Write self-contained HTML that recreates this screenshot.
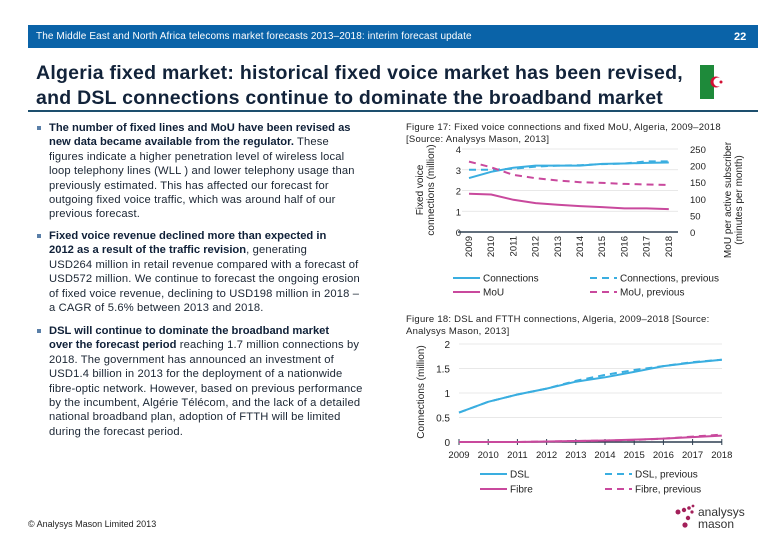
<!DOCTYPE html>
<html><head><meta charset="utf-8">
<style>
body{margin:0;width:780px;height:540px;background:#fff;position:relative;overflow:hidden;font-family:"Liberation Sans",sans-serif;}
.a{position:absolute;white-space:nowrap;}
.bl{font-size:11.2px;line-height:14.4px;color:#1a2533;letter-spacing:0.15px;}
.bl b{color:#0f2038;letter-spacing:0;}
.bul{position:absolute;width:4px;height:4px;background:#5a7fa8;}
svg text{font-family:"Liberation Sans",sans-serif;}
</style></head><body>
<div class="a" style="left:28px;top:25px;width:730px;height:23px;background:#0a63a8;"></div>
<div class="a" style="left:36px;top:31px;font-size:10px;color:#fff;letter-spacing:0.1px;">The Middle East and North Africa telecoms market forecasts 2013–2018: interim forecast update</div>
<div class="a" style="left:734px;top:31px;font-size:11px;color:#fff;font-weight:bold;">22</div>
<div class="a" style="left:36px;top:61px;font-size:19.5px;line-height:25px;font-weight:bold;color:#12233a;letter-spacing:0.25px;">Algeria fixed market: historical fixed voice market has been revised,<br>and DSL connections continue to dominate the broadband market</div>
<div class="a" style="left:28px;top:110px;width:730px;height:2px;background:#1d4f6e;"></div>
<svg class="a" style="left:700px;top:65px" width="28" height="34"><rect width="14" height="34" fill="#1e8a3a"/><rect x="14" width="14" height="34" fill="#fff"/><circle cx="16" cy="17" r="5.5" fill="#d21034"/><circle cx="18" cy="17" r="4.5" fill="#fff"/><circle cx="21" cy="17" r="1.5" fill="#d21034"/></svg>

<div class="bul" style="left:37px;top:126px"></div>
<div class="a bl" style="left:49px;top:121px"><b>The number of fixed lines and MoU have been revised as<br>new data became available from the regulator.</b> These<br>figures indicate a higher penetration level of wireless local<br>loop telephony lines (WLL ) and lower telephony usage than<br>previously estimated. This has affected our forecast for<br>outgoing fixed voice traffic, which was around half of our<br>previous forecast.</div>
<div class="bul" style="left:37px;top:234px"></div>
<div class="a bl" style="left:49px;top:229px"><b>Fixed voice revenue declined more than expected in<br>2012 as a result of the traffic revision</b>, generating<br>USD264 million in retail revenue compared with a forecast of<br>USD572 million. We continue to forecast the ongoing erosion<br>of fixed voice revenue, declining to USD198 million in 2018 –<br>a CAGR of 5.6% between 2013 and 2018.</div>
<div class="bul" style="left:37px;top:329px"></div>
<div class="a bl" style="left:49px;top:324px"><b>DSL will continue to dominate the broadband market<br>over the forecast period</b> reaching 1.7 million connections by<br>2018. The government has announced an investment of<br>USD1.4 billion in 2013 for the deployment of a nationwide<br>fibre-optic network. However, based on previous performance<br>by the incumbent, Algérie Télécom, and the lack of a detailed<br>national broadband plan, adoption of FTTH will be limited<br>during the forecast period.</div>
<div class="a" style="left:28px;top:519px;font-size:9px;color:#222;">© Analysys Mason Limited 2013</div>

<div class="a" style="left:406px;top:122px;font-size:9.5px;line-height:12px;color:#222;letter-spacing:0.25px;">Figure 17: Fixed voice connections and fixed MoU, Algeria, 2009–2018<br>[Source: Analysys Mason, 2013]</div>
<div class="a" style="left:406px;top:314px;font-size:9.5px;line-height:12px;color:#222;letter-spacing:0.25px;">Figure 18: DSL and FTTH connections, Algeria, 2009–2018 [Source:<br>Analysys Mason, 2013]</div>

<svg class="a" id="c1" style="left:0;top:0" width="780" height="540"></svg>

<div class="a" style="left:672px;top:500px;">
<svg width="90" height="32"><g fill="#a3205a"><circle cx="6" cy="12" r="2.5"/><circle cx="12" cy="10" r="2.2"/><circle cx="17" cy="8" r="1.8"/><circle cx="21" cy="6" r="1.4"/><circle cx="20" cy="12" r="1.6"/><circle cx="16" cy="18" r="2.2"/><circle cx="13" cy="25" r="2.6"/></g>
<text x="26" y="16" font-size="12" fill="#333">analysys</text><text x="26" y="28" font-size="12" fill="#333">mason</text></svg></div>

<script>
const years=["2009","2010","2011","2012","2013","2014","2015","2016","2017","2018"];
const connections=[2.6,2.9,3.1,3.2,3.2,3.2,3.28,3.3,3.33,3.35];
const connectionsPrev=[3.0,3.0,3.05,3.15,3.2,3.22,3.27,3.3,3.4,3.4];
const mou=[115,113,97,87,82,78,75,71,71,69];
const mouPrev=[212,195,172,162,155,150,148,145,143,142];
const leftTicks=[0,1,2,3,4];
const rightTicks=[0,50,100,150,200,250];
const dsl=[0.6,0.82,0.97,1.09,1.23,1.32,1.43,1.55,1.62,1.68];
const dslPrev=[0.6,0.82,0.97,1.09,1.25,1.37,1.47,1.55,1.63,1.68];
const fibre=[0,0,0,0.01,0.02,0.03,0.05,0.07,0.1,0.13];
const fibrePrev=[0,0,0,0.01,0.02,0.03,0.04,0.07,0.11,0.15];
const ticks2=[0,0.5,1,1.5,2];
const tick2Labels=["0","0.5","1","1.5","2"];

const svg=document.getElementById('c1');
const NS="http://www.w3.org/2000/svg";
const BLUE="#3aaee0",PINK="#c9499d";
function mk(tag,attrs,name){const e=document.createElementNS(NS,tag);for(const k in attrs)e.setAttribute(k,attrs[k]);


svg.appendChild(e);return e;}
function txt(x,y,s,attrs,name){const e=mk('text',Object.assign({x:x,y:y,'font-size':9.5,fill:'#222'},attrs||{}),name);e.textContent=s;return e;}
function line(vals,xf,yf,color,dash,name){const d=vals.map((v,i)=>(i?'L':'M')+xf(i).toFixed(1)+','+yf(v).toFixed(1)).join('');
mk('path',Object.assign({d:d,fill:'none',stroke:color,'stroke-width':2},dash?{'stroke-dasharray':'7,5'}:{}),name);}

// chart 1
const x1=i=>469+i*22.2, yL=v=>232-v*20.75, yR=v=>232-v*0.332;
leftTicks.forEach(t=>{ if(t>0) mk('line',{x1:462,x2:678,y1:yL(t),y2:yL(t),stroke:'#e0e0e0','stroke-width':0.8},'gridline-left-'+t);
 txt(461,yL(t)+4,String(t),{'text-anchor':'end'},'y-tick-left-'+t);});
rightTicks.forEach(t=>txt(690,yR(t)+4,String(t),{},'y-tick-right-'+t));
mk('line',{x1:458,x2:678,y1:232,y2:232,stroke:'#2d3e50','stroke-width':1.5},'x-axis-1');
years.forEach((y,i)=>txt(x1(i)+3,236,y,{'text-anchor':'end',transform:`rotate(-90 ${x1(i)+3} 236)`},'x-tick-1-'+y));
line(connectionsPrev,x1,yL,BLUE,true,'series-connections-previous');
line(connections,x1,yL,BLUE,false,'series-connections');
line(mouPrev,x1,yR,PINK,true,'series-mou-previous');
line(mou,x1,yR,PINK,false,'series-mou');
txt(423,190,'Fixed voice',{'text-anchor':'middle','font-size':10,transform:'rotate(-90 423 190)'},'y-axis-title-left');
txt(434,190,'connections (million)',{'text-anchor':'middle','font-size':10,transform:'rotate(-90 434 190)'},'y-axis-title-left-2');
txt(731,200,'MoU per active subscriber',{'text-anchor':'middle','font-size':10,transform:'rotate(-90 731 200)'},'y-axis-title-right');
txt(742,200,'(minutes per month)',{'text-anchor':'middle','font-size':10,transform:'rotate(-90 742 200)'},'y-axis-title-right-2');
function leg(x,y,color,dash,label,name){mk('line',Object.assign({x1:x,x2:x+27,y1:y,y2:y,stroke:color,'stroke-width':2},dash?{'stroke-dasharray':'7,5'}:{}),name+'-swatch');
 txt(x+30,y+3.5,label,{'font-size':10},name+'-label');}
leg(453,278,BLUE,false,'Connections','legend-connections');
leg(590,278,BLUE,true,'Connections, previous','legend-connections-previous');
leg(453,292,PINK,false,'MoU','legend-mou');
leg(590,292,PINK,true,'MoU, previous','legend-mou-previous');

// chart 2
const x2=i=>459+i*29.2, y2=v=>442-v*49;
ticks2.forEach((t,k)=>{ if(t>0) mk('line',{x1:459,x2:722,y1:y2(t),y2:y2(t),stroke:'#e0e0e0','stroke-width':0.8},'gridline-2-'+k);
 txt(450,y2(t)+4,tick2Labels[k],{'text-anchor':'end','font-size':10},'y-tick-2-'+k);});
mk('line',{x1:459,x2:722,y1:442,y2:442,stroke:'#2d3e50','stroke-width':1.5},'x-axis-2');
years.forEach((y,i)=>{mk('line',{x1:x2(i),x2:x2(i),y1:439,y2:445,stroke:'#2d3e50','stroke-width':1},'x-tick-mark-2-'+y);
 txt(x2(i),458,y,{'text-anchor':'middle','font-size':9.5},'x-tick-2-'+y);});
line(dslPrev,x2,y2,BLUE,true,'series-dsl-previous');
line(dsl,x2,y2,BLUE,false,'series-dsl');
line(fibrePrev,x2,y2,PINK,true,'series-fibre-previous');
line(fibre,x2,y2,PINK,false,'series-fibre');
txt(424,392,'Connections (million)',{'text-anchor':'middle','font-size':10,transform:'rotate(-90 424 392)'},'y-axis-title-2');
leg(480,474,BLUE,false,'DSL','legend-dsl');
leg(605,474,BLUE,true,'DSL, previous','legend-dsl-previous');
leg(480,489,PINK,false,'Fibre','legend-fibre');
leg(605,489,PINK,true,'Fibre, previous','legend-fibre-previous');
</script>
</body></html>
